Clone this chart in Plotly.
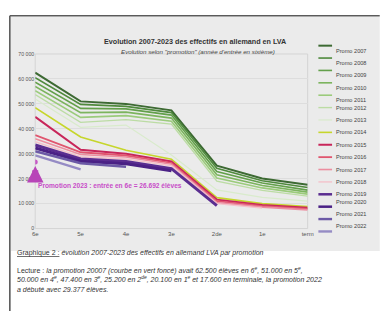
import plotly.graph_objects as go

W, H = 382, 311

levels = ["6e", "5e", "4e", "3e", "2de", "1e", "term"]
y_ticks = [0, 10000, 20000, 30000, 40000, 50000, 60000, 70000]
y_tick_text = ["0", "10 000", "20 000", "30 000", "40 000", "50 000", "60 000", "70 000"]

promo_names = ["Promo 2007", "Promo 2008", "Promo 2009", "Promo 2010", "Promo 2011",
               "Promo 2012", "Promo 2013", "Promo 2014", "Promo 2015", "Promo 2016",
               "Promo 2017", "Promo 2018", "Promo 2019", "Promo 2020", "Promo 2021",
               "Promo 2022"]

p2007 = [62500, 51000, 50000, 47400, 25200, 20100, 17600]
p2008 = [60500, 49800, 49000, 46500, 24200, 19200, 16500]
p2009 = [58700, 48200, 48000, 45500, 22900, 18300, 15400]
p2010 = [57000, 46500, 46700, 44300, 21600, 17300, 14600]
p2011 = [55300, 44600, 45300, 43000, 20300, 16300, 13800]
p2012 = [53700, 42600, 43700, 41900, 19000, 15300, 13000]
p2013 = [52000, 40600, 41500, 29500, 15500, 12500, 11000]
p2014 = [48500, 36700, 31400, 27800, 12400, 10000, 8800]
p2015 = [44800, 31600, 30000, 26900, 11600, 9400, 8300]
p2016 = [37500, 30600, 29300, 26300, 11000, 9000, 7900]
p2017 = [36000, 29700, 28700, 25800, 10400, 8600, 7500]
p2018 = [34800, 28800, 27900, 25200, 10000, 8200]
p2019 = [33500, 27900, 26900, 24000, 9200]
p2020 = [32300, 27000, 26000, 23200]
p2021 = [31000, 26200, 24800]
p2022 = [29377, 23700]
p2023 = [26692]

series = [p2007, p2008, p2009, p2010, p2011, p2012, p2013, p2014,
          p2015, p2016, p2017, p2018, p2019, p2020, p2021, p2022]
colors = ["#3d6a33", "#4f8a3d", "#63a04b", "#7cb45e", "#9bcb7b", "#bcdca4", "#d9ebcc",
          "#c6d62c", "#c8265a", "#e0566f", "#ec8ea0", "#f4c3cb",
          "#5a2d90", "#4a2185", "#6c5aa6", "#958bc4"]
widths = [2, 1.6, 1.6, 1.6, 1.6, 1.4, 1.2, 1.6, 2, 1.8, 1.6, 1.4, 3, 3, 2.4, 2.4]

FONT = "Liberation Sans, Arial, sans-serif"
fig = go.Figure()

for name, vals, col, w in zip(promo_names, series, colors, widths):
    fig.add_trace(go.Scatter(x=levels[:len(vals)], y=vals, mode="lines", name=name,
                             line=dict(color=col, width=w), showlegend=False))

# promotion 2023 point
fig.add_trace(go.Scatter(x=levels[:len(p2023)], y=p2023, mode="markers", showlegend=False,
                         marker=dict(color="#c65ac6", size=5)))
fig.add_annotation(x=levels[0], y=p2023[0], xref="x", yref="y", text="", showarrow=True,
                   ax=0, ay=12, arrowhead=2, arrowsize=0.55, arrowwidth=6,
                   arrowcolor="#b845b8", standoff=4)
fig.add_annotation(x=levels[0], y=17200, xref="x", yref="y", xanchor="left", xshift=1,
                   text="<b>Promotion 2023 : entrée en 6e = 26.692 élèves</b>",
                   showarrow=False, font=dict(size=6.6, color="#c84cc8", family=FONT))

x0p, x1p = 33 / W, 312 / W
y0p, y1p = 1 - 230 / H, 1 - 52 / H

# grey chart block and frame
fig.add_shape(type="rect", xref="paper", yref="paper", x0=8 / W, x1=1.01, y0=1 - 253 / H, y1=1 - 14 / H,
              fillcolor="#ebebeb", line=dict(width=0), layer="below")
fig.add_shape(type="line", xref="paper", yref="paper", x0=7 / W, x1=7 / W, y0=-0.01, y1=1 - 13 / H,
              line=dict(color="#5a5a5a", width=1.6))
fig.add_shape(type="line", xref="paper", yref="paper", x0=7 / W, x1=1.01, y0=1 - 13 / H, y1=1 - 13 / H,
              line=dict(color="#5a5a5a", width=1.6))
fig.add_shape(type="rect", xref="paper", yref="paper", x0=x0p, x1=x1p, y0=y0p, y1=y1p,
              line=dict(color="#d4d4d4", width=1), layer="below")

# titles
fig.add_annotation(x=197 / W, y=1 - 33 / H, xref="paper", yref="paper", showarrow=False,
                   text="<b>Evolution 2007-2023 des effectifs en allemand en LVA</b>",
                   font=dict(size=7.2, color="#333333", family=FONT))
fig.add_annotation(x=200 / W, y=1 - 44 / H, xref="paper", yref="paper", showarrow=False,
                   text="<i>Evolution selon \"promotion\" (année d'entrée en sixième)</i>",
                   font=dict(size=6.2, color="#444444", family=FONT))

# custom legend
top, step = 43.5, 12.63
for i, (name, col, w) in enumerate(zip(promo_names, colors, widths)):
    yy = 1 - (top + i * step) / H
    fig.add_shape(type="line", xref="paper", yref="paper", x0=323 / W, x1=337 / W, y0=yy, y1=yy,
                  line=dict(color=col, width=min(w, 2.5)))
    fig.add_annotation(x=339 / W, y=yy, xref="paper", yref="paper", xanchor="left", showarrow=False,
                       text=name, font=dict(size=5.6, color="#444444", family=FONT))

# caption
cap = [
    (261, "<u>Graphique 2 :</u> <i>évolution 2007-2023 des effectifs en allemand LVA par promotion</i>"),
    (279, "Lecture : <i>la promotion 20007 (courbe en vert foncé) avait 62.500 élèves en 6<sup>e</sup>, 51.000 en 5<sup>e</sup>,</i>"),
    (288.5, "<i>50.000 en 4<sup>e</sup>, 47.400 en 3<sup>e</sup>, 25.200 en 2<sup>de</sup>, 20.100 en 1<sup>e</sup> et 17.600 en terminale, la promotion 2022</i>"),
    (298, "<i>a débuté avec 29.377 élèves.</i>"),
]
for yy, t in cap:
    fig.add_annotation(x=12 / W, y=1 - yy / H, xref="paper", yref="paper", xanchor="left",
                       showarrow=False, text=t, font=dict(size=7, color="#333333", family=FONT))

fig.update_xaxes(domain=[x0p, x1p], type="category", categoryorder="array", categoryarray=levels,
                 range=[0, 6], showgrid=False, zeroline=False, showline=False, ticks="",
                 tickfont=dict(size=6, color="#555555", family=FONT))
fig.update_yaxes(domain=[y0p, y1p], range=[0, 70000], tickvals=y_ticks, ticktext=y_tick_text,
                 showgrid=True, gridcolor="#dddddd", gridwidth=1, zeroline=False, showline=False,
                 ticks="", tickfont=dict(size=5.2, color="#555555", family=FONT))

fig.update_layout(width=W, height=H, margin=dict(l=0, r=0, t=0, b=0),
                  paper_bgcolor="white", plot_bgcolor="rgba(0,0,0,0)", showlegend=False,
                  hovermode=False)

fig.write_html("out.html", config={"displayModeBar": False, "staticPlot": True},
               post_script="document.body.style.margin='0px';document.body.style.overflow='hidden';")
